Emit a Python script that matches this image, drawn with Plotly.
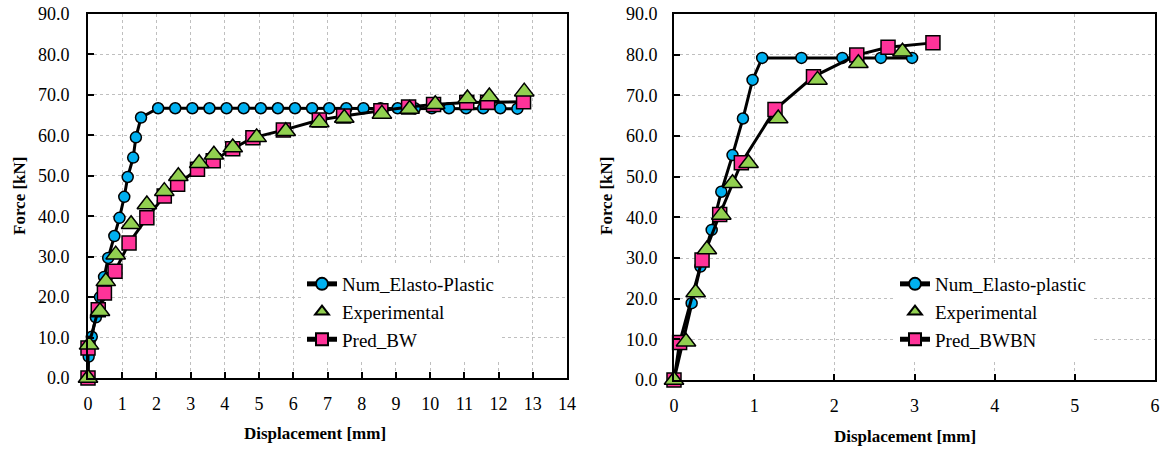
import plotly.graph_objects as go

# ---------------- Data: left chart ----------------
num_l_x = [0.0, 0.02, 0.11, 0.23, 0.35, 0.47, 0.59, 0.77, 0.92, 1.06, 1.16, 1.32, 1.40, 1.55,
           2.05, 2.55, 3.05, 3.55, 4.05, 4.55, 5.05, 5.55, 6.05, 6.55, 7.05, 7.55, 8.05, 8.55,
           9.05, 9.55, 10.05, 10.55, 11.05, 11.55, 12.05, 12.55]
num_l_y = [0.0, 5.3, 10.2, 15.0, 20.0, 25.0, 29.7, 35.1, 39.6, 44.8, 49.7, 54.5, 59.5, 64.4,
           66.7, 66.7, 66.7, 66.7, 66.7, 66.7, 66.7, 66.7, 66.7, 66.7, 66.7, 66.7, 66.7, 66.7,
           66.7, 66.7, 66.7, 66.7, 66.7, 66.7, 66.7, 66.6]

exp_l_x = [0.0, 0.03, 0.35, 0.52, 0.81, 1.26, 1.72, 2.23, 2.64, 3.25, 3.68, 4.23, 4.93, 5.78,
           6.76, 7.49, 8.59, 9.40, 10.15, 11.09, 11.73, 12.75]
exp_l_y = [0.0, 8.2, 16.5, 23.9, 30.5, 38.0, 42.9, 46.2, 49.9, 53.1, 55.2, 57.0, 59.5, 61.0,
           63.2, 64.3, 65.3, 66.5, 67.7, 69.1, 69.6, 70.8]

pred_l_x = [0.0, 0.0, 0.30, 0.48, 0.79, 1.20, 1.72, 2.23, 2.62, 3.20, 3.66, 4.23, 4.82, 5.71,
            6.76, 7.47, 8.56, 9.37, 10.10, 11.07, 11.68, 12.73]
pred_l_y = [0.0, 7.4, 16.9, 21.0, 26.4, 33.4, 39.6, 45.0, 47.9, 51.6, 53.7, 56.7, 59.4, 61.3,
            63.8, 64.8, 66.1, 67.0, 67.6, 68.1, 68.2, 68.3]

# ---------------- Data: right chart ----------------
num_r_x = [0.0, 0.11, 0.22, 0.33, 0.47, 0.59, 0.73, 0.86, 0.98, 1.10, 1.59, 2.10, 2.58, 2.97]
num_r_y = [0.0, 9.4, 18.9, 27.9, 36.9, 46.3, 55.3, 64.3, 73.8, 79.2, 79.2, 79.2, 79.2, 79.2]

exp_r_x = [0.0, 0.15, 0.27, 0.41, 0.59, 0.73, 0.93, 1.30, 1.79, 2.30, 2.85]
exp_r_y = [0.0, 9.4, 21.5, 32.1, 40.6, 48.4, 53.3, 64.3, 73.8, 77.9, 80.7]

pred_r_x = [0.0, 0.07, 0.35, 0.57, 0.84, 1.26, 1.74, 2.28, 2.67, 3.23]
pred_r_y = [0.0, 9.2, 29.5, 40.7, 53.4, 66.5, 74.6, 79.9, 81.8, 82.9]

labels_left = ["Num_Elasto-Plastic", "Experimental", "Pred_BW"]
labels_right = ["Num_Elasto-plastic", "Experimental", "Pred_BWBN"]

BLUE = "#00B0F0"
GREEN = "#92D050"
PINK = "#FF3399"
FONT = "Liberation Serif, Times New Roman, serif"

W, H = 1168, 450

fig = go.Figure()

def add_set(nx, ny, ex, ey, px, py, labels, xa, ya, leg):
    fig.add_trace(go.Scatter(
        x=nx, y=ny, name=labels[0], mode="lines+markers", xaxis=xa, yaxis=ya, legend=leg,
        legendrank=1, cliponaxis=False,
        line=dict(color="black", width=3),
        marker=dict(symbol="circle", size=11, color=BLUE, line=dict(color="black", width=1.5))))
    fig.add_trace(go.Scatter(
        x=px, y=py, name=labels[2], mode="lines+markers", xaxis=xa, yaxis=ya, legend=leg,
        legendrank=3, cliponaxis=False,
        line=dict(color="black", width=3),
        marker=dict(symbol="square", size=14, color=PINK, line=dict(color="black", width=1.5))))
    fig.add_trace(go.Scatter(
        x=ex, y=ey, name=labels[1], mode="markers", xaxis=xa, yaxis=ya, legend=leg,
        legendrank=2, cliponaxis=False,
        marker=dict(symbol="triangle-up", size=17, color=GREEN, line=dict(color="black", width=1.5))))

add_set(num_l_x, num_l_y, exp_l_x, exp_l_y, pred_l_x, pred_l_y, labels_left, "x", "y", "legend")
add_set(num_r_x, num_r_y, exp_r_x, exp_r_y, pred_r_x, pred_r_y, labels_right, "x2", "y2", "legend2")

def px_x(p):
    return p / W

def px_y(p):
    return 1 - p / H

axis_common = dict(
    showline=True, linecolor="black", linewidth=2, mirror=True,
    ticks="inside", ticklen=6, tickwidth=1.5, tickcolor="black",
    showgrid=True, gridcolor="#BFBFBF", griddash="dot", gridwidth=1,
    zeroline=False, automargin=False, ticklabeloverflow="allow",
    tickfont=dict(family=FONT, size=18, color="black"),
)

legend_common = dict(xanchor="left", yanchor="top", bgcolor="white",
                     font=dict(family=FONT, size=19, color="black"),
                     tracegroupgap=0, itemwidth=30, itemsizing="constant")

title_font = dict(family=FONT, size=17, color="black")

fig.update_layout(
    width=W, height=H,
    margin=dict(l=0, r=0, t=0, b=0, pad=0, autoexpand=False),
    paper_bgcolor="white", plot_bgcolor="white",
    showlegend=True,
    xaxis=dict(domain=[px_x(88), px_x(567)], range=[0, 14], dtick=1, anchor="y",
               ticklabelstandoff=8, **axis_common),
    yaxis=dict(domain=[px_y(378), px_y(14)], range=[0, 90], dtick=10, tickformat=".1f",
               anchor="x", ticklabelstandoff=13, **axis_common),
    xaxis2=dict(domain=[px_x(674), px_x(1155)], range=[0, 6], dtick=1, anchor="y2",
                ticklabelstandoff=8, **axis_common),
    yaxis2=dict(domain=[px_y(380), px_y(14)], range=[0, 90], dtick=10, tickformat=".1f",
                anchor="x2", ticklabelstandoff=11, **axis_common),
    legend=dict(x=px_x(302), y=px_y(265), **legend_common),
    legend2=dict(x=px_x(895), y=px_y(265), **legend_common),
    annotations=[
        dict(text="<b>Force [kN]</b>", x=px_x(20), y=px_y(196), xref="paper", yref="paper",
             xanchor="center", yanchor="middle",
             textangle=-90, showarrow=False, font=title_font),
        dict(text="<b>Displacement [mm]</b>", x=px_x(315), y=px_y(433), xref="paper", yref="paper",
             xanchor="center", yanchor="middle", showarrow=False, font=title_font),
        dict(text="<b>Force [kN]</b>", x=px_x(607), y=px_y(196), xref="paper", yref="paper",
             xanchor="center", yanchor="middle",
             textangle=-90, showarrow=False, font=title_font),
        dict(text="<b>Displacement [mm]</b>", x=px_x(905), y=px_y(436), xref="paper", yref="paper",
             xanchor="center", yanchor="middle", showarrow=False, font=title_font),
    ],
)

# remove the default 8px page margin so the 1168x450 figure fills the window exactly
fig.write_html("out.html",
               config={"displayModeBar": False},
               post_script="document.body.style.margin='0px'; document.body.style.overflow='hidden';")
